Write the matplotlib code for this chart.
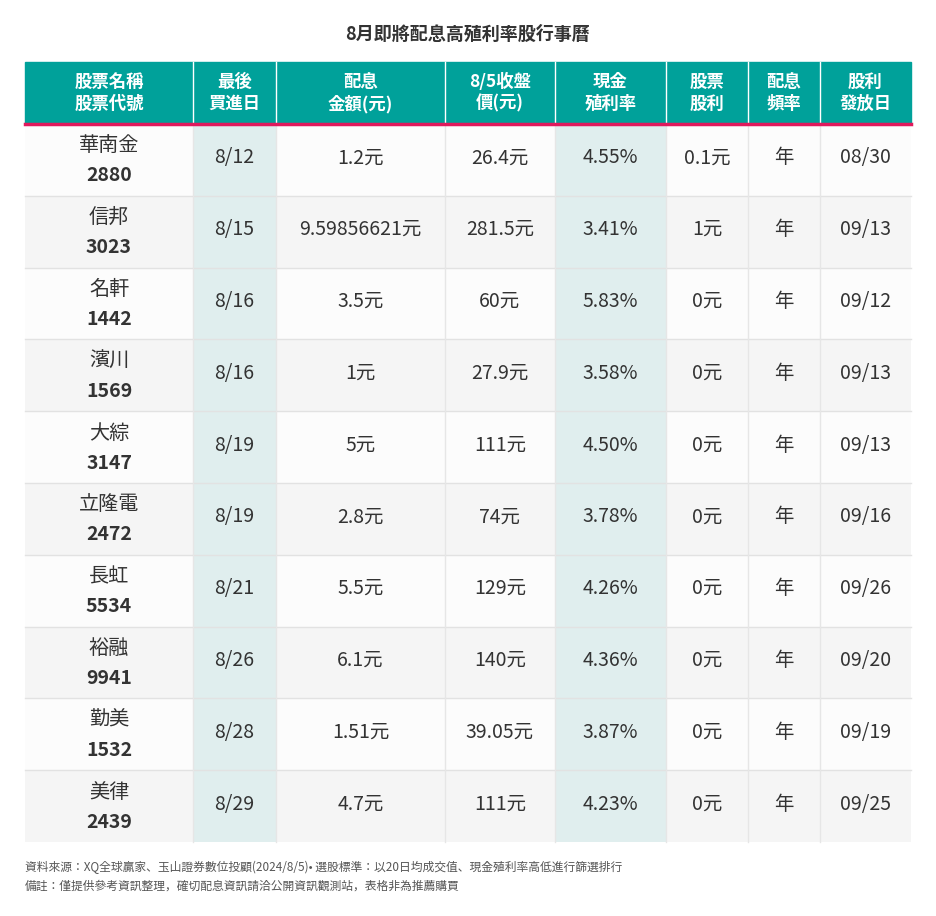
import matplotlib
matplotlib.use('Agg')
import matplotlib.pyplot as plt
from matplotlib.patches import Rectangle

plt.rcParams['font.family'] = ['Noto Sans CJK TC', 'Noto Sans CJK JP', 'Noto Sans CJK SC',
                               'Noto Sans', 'DejaVu Sans']

TITLE = '8月即將配息高殖利率股行事曆'
headers = ['股票名稱\n股票代號', '最後\n買進日', '配息\n金額(元)', '8/5收盤\n價(元)',
           '現金\n殖利率', '股票\n股利', '配息\n頻率', '股利\n發放日']
names = ['華南金', '信邦', '名軒', '濱川', '大綜', '立隆電', '長虹', '裕融', '勤美', '美律']
codes = ['2880', '3023', '1442', '1569', '3147', '2472', '5534', '9941', '1532', '2439']
buy_dates = ['8/12', '8/15', '8/16', '8/16', '8/19', '8/19', '8/21', '8/26', '8/28', '8/29']
cash_div = ['1.2元', '9.59856621元', '3.5元', '1元', '5元', '2.8元', '5.5元', '6.1元', '1.51元', '4.7元']
close_px = ['26.4元', '281.5元', '60元', '27.9元', '111元', '74元', '129元', '140元', '39.05元', '111元']
yields = ['4.55%', '3.41%', '5.83%', '3.58%', '4.50%', '3.78%', '4.26%', '4.36%', '3.87%', '4.23%']
stock_div = ['0.1元', '1元', '0元', '0元', '0元', '0元', '0元', '0元', '0元', '0元']
freq = ['年'] * 10
pay_dates = ['08/30', '09/13', '09/12', '09/13', '09/13', '09/16', '09/26', '09/20', '09/19', '09/25']
footnotes = ['資料來源：XQ全球贏家、玉山證券數位投顧(2024/8/5)• 選股標準：以20日均成交值、現金殖利率高低進行篩選排行',
             '備註：僅提供參考資訊整理，確切配息資訊請洽公開資訊觀測站，表格非為推薦購買']

col_x = [25, 193, 276, 445, 555, 666, 748, 820, 911]
HEAD_TOP, HEAD_BOT, TABLE_BOT = 62, 124, 842
TEAL = '#00a19a'
HILITE = '#e0eeee'
TEXT = '#333333'

fig = plt.figure(figsize=(9.36, 9.16), dpi=100, facecolor='white')
ax = fig.add_axes([0, 0, 1, 1])
ax.set_xlim(0, 936)
ax.set_ylim(916, 0)
ax.axis('off')

ax.text(468, 34, TITLE, ha='center', va='center', fontsize=13, fontweight='bold', color=TEXT)

# header
ax.add_patch(Rectangle((col_x[0], HEAD_TOP), col_x[-1] - col_x[0], HEAD_BOT - HEAD_TOP, color=TEAL))
for i, h in enumerate(headers):
    cx = (col_x[i] + col_x[i + 1]) / 2
    ax.text(cx, (HEAD_TOP + HEAD_BOT) / 2, h, ha='center', va='center', fontsize=12.5,
            fontweight='bold', color='white', linespacing=1.25)
    if i > 0:
        ax.plot([col_x[i]] * 2, [HEAD_TOP, HEAD_BOT], color='white', lw=1)

# body
n = len(names)
rh = (TABLE_BOT - HEAD_BOT) / n
columns = [buy_dates, cash_div, close_px, yields, stock_div, freq, pay_dates]
for r in range(n):
    y0 = HEAD_BOT + r * rh
    bg = '#fcfcfc' if r % 2 == 0 else '#f5f5f5'
    ax.add_patch(Rectangle((col_x[0], y0), col_x[-1] - col_x[0], rh, color=bg, lw=0))
    for c in (1, 4):
        ax.add_patch(Rectangle((col_x[c], y0), col_x[c + 1] - col_x[c], rh, color=HILITE, lw=0))
    yc = y0 + rh / 2
    ax.text((col_x[0] + col_x[1]) / 2, yc - 14, names[r], ha='center', va='center',
            fontsize=14.5, color=TEXT)
    ax.text((col_x[0] + col_x[1]) / 2, yc + 16, codes[r], ha='center', va='center',
            fontsize=14, fontweight='bold', color=TEXT)
    for j, col in enumerate(columns):
        c = j + 1
        ax.text((col_x[c] + col_x[c + 1]) / 2, yc - 2, col[r], ha='center', va='center',
                fontsize=14, color=TEXT)
    if r > 0:
        ax.plot([col_x[0], col_x[-1]], [y0, y0], color='#e2e2e2', lw=1)
for x in col_x[1:-1]:
    ax.plot([x, x], [HEAD_BOT, TABLE_BOT], color='#e6e6e6', lw=1)
ax.plot([col_x[0], col_x[-1]], [HEAD_BOT, HEAD_BOT], color='#e0195c', lw=2.5)

for k, line in enumerate(footnotes):
    ax.text(25, 867 + k * 19, line, ha='left', va='center', fontsize=8.5, color='#555555')

fig.savefig('out.png', dpi=100, facecolor='white')
